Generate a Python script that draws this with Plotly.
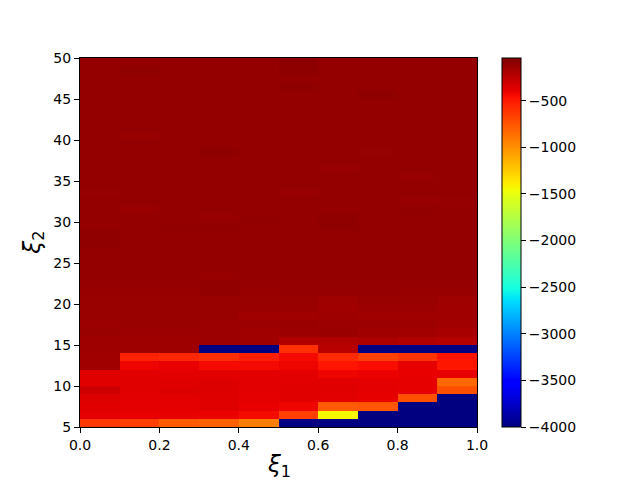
import plotly.graph_objects as go

# cell edges along both axes
xi1_edges = [0.0, 0.1, 0.2, 0.3, 0.4, 0.5, 0.6, 0.7, 0.8, 0.9, 1.0]
xi2_edges = list(range(5, 51))

x_ticks = [0.0, 0.2, 0.4, 0.6, 0.8, 1.0]
y_ticks = [5, 10, 15, 20, 25, 30, 35, 40, 45, 50]
cbar_ticks = [-4000, -3500, -3000, -2500, -2000, -1500, -1000, -500]

# one row per xi2 cell, from xi2 = 5 upwards; columns follow xi1
energy = [
    [-630, -666, -780, -802, -933, -4000, -4000, -4000, -4000, -4000],   # 5
    [-386, -400, -393, -405, -440, -666, -1436, -4000, -4000, -4000],    # 6
    [-372, -386, -386, -372, -400, -419, -775, -750, -4000, -4000],      # 7
    [-360, -379, -379, -366, -386, -372, -379, -393, -735, -4000],       # 8
    [-304, -372, -360, -360, -379, -372, -372, -386, -393, -735],        # 9
    [-372, -372, -372, -366, -379, -379, -379, -386, -393, -835],        # 10
    [-372, -379, -386, -379, -386, -386, -419, -405, -400, -400],        # 11
    [-154, -419, -400, -440, -440, -419, -482, -455, -393, -490],        # 12
    [-154, -541, -566, -590, -530, -440, -575, -666, -615, -482],        # 13
    [-147, -147, -147, -4000, -4000, -601, -237, -4000, -4000, -4000],   # 14
    [-147, -147, -147, -140, -154, -209, -209, -195, -209, -223],        # 15
    [-127, -140, -140, -140, -154, -140, -134, -154, -160, -181],        # 16
    [-140, -127, -127, -140, -140, -134, -140, -140, -147, -160],        # 17
    [-127, -127, -127, -127, -154, -154, -147, -154, -154, -154],        # 18
    [-127, -127, -127, -127, -134, -134, -154, -140, -140, -154],        # 19
    [-127, -127, -127, -127, -127, -127, -150, -127, -127, -150],        # 20
    [-125, -125, -125, -108, -125, -122, -120, -120, -125, -125],        # 21
    [-122, -122, -120, -108, -118, -118, -116, -118, -120, -122],        # 22
    [-113, -110, -113, -126, -113, -113, -113, -113, -113, -113],        # 23
    [-113, -113, -113, -113, -113, -113, -113, -113, -113, -113],        # 24
    [-113, -113, -113, -113, -113, -113, -113, -113, -113, -110],        # 25
    [-113, -113, -113, -113, -113, -113, -113, -113, -113, -113],        # 26
    [-100, -113, -113, -113, -113, -113, -113, -113, -113, -113],        # 27
    [-100, -113, -113, -113, -113, -113, -113, -113, -113, -113],        # 28
    [-113, -113, -104, -104, -113, -113, -102, -113, -113, -113],        # 29
    [-113, -113, -113, -125, -108, -113, -102, -113, -113, -113],        # 30
    [-113, -125, -113, -113, -113, -113, -122, -113, -106, -113],        # 31
    [-113, -113, -113, -113, -113, -113, -113, -113, -125, -118],        # 32
    [-122, -113, -113, -113, -113, -124, -113, -113, -113, -113],        # 33
    [-113, -113, -113, -113, -113, -113, -113, -113, -113, -113],        # 34
    [-113, -113, -113, -113, -113, -113, -113, -113, -126, -113],        # 35
    [-113, -113, -113, -113, -113, -113, -124, -113, -113, -113],        # 36
    [-113, -113, -113, -113, -113, -113, -113, -113, -113, -113],        # 37
    [-113, -113, -113, -100, -113, -113, -113, -122, -113, -113],        # 38
    [-113, -113, -113, -113, -113, -113, -113, -113, -113, -113],        # 39
    [-113, -125, -113, -113, -113, -113, -113, -113, -113, -113],        # 40
    [-113, -113, -113, -113, -113, -113, -113, -113, -113, -113],        # 41
    [-113, -113, -113, -113, -113, -113, -113, -113, -113, -113],        # 42
    [-113, -113, -113, -113, -113, -113, -113, -113, -113, -113],        # 43
    [-113, -113, -113, -113, -113, -113, -113, -113, -113, -113],        # 44
    [-113, -113, -113, -113, -113, -113, -113, -96, -113, -113],         # 45
    [-113, -113, -113, -113, -113, -100, -113, -113, -113, -113],        # 46
    [-113, -113, -113, -113, -113, -113, -113, -113, -113, -113],        # 47
    [-113, -96, -113, -113, -113, -92, -113, -113, -113, -113],          # 48
    [-113, -113, -113, -113, -113, -92, -113, -113, -113, -113],         # 49
]

# matplotlib's jet, sampled at its own breakpoints
_JET = [
    [0.0, "rgb(0,0,128)"],
    [0.11, "rgb(0,0,255)"],
    [0.125, "rgb(0,0,255)"],
    [0.34, "rgb(0,219,255)"],
    [0.35, "rgb(0,230,247)"],
    [0.375, "rgb(21,255,226)"],
    [0.64, "rgb(239,255,8)"],
    [0.65, "rgb(247,245,0)"],
    [0.66, "rgb(255,236,0)"],
    [0.89, "rgb(255,19,0)"],
    [0.91, "rgb(232,0,0)"],
    [1.0, "rgb(128,0,0)"],
]
_FONT = dict(family="DejaVu Sans", size=14, color="black")
_TITLE_FONT = dict(family="DejaVu Sans", size=23, color="black")

fig = go.Figure(
    go.Heatmap(
        x=xi1_edges,
        y=xi2_edges,
        z=energy,
        zmin=-4000,
        zmax=-43,
        colorscale=_JET,
        colorbar=dict(
            x=1.063,
            xanchor="left",
            xpad=0,
            ypad=0,
            y=0.5,
            len=1.0,
            thickness=19,
            outlinewidth=1,
            outlinecolor="black",
            tickvals=cbar_ticks,
            ticks="outside",
            ticklen=5,
            tickcolor="black",
            tickfont=_FONT,
        ),
    )
)

_axis = dict(
    showgrid=False,
    zeroline=False,
    showline=True,
    linecolor="black",
    linewidth=1,
    mirror=True,
    ticks="outside",
    ticklen=5,
    tickcolor="black",
    tickfont=_FONT,
    automargin=False,
)

fig.update_layout(
    width=640,
    height=480,
    margin=dict(l=80, r=163, t=58, b=53),
    plot_bgcolor="white",
    paper_bgcolor="white",
    font=_FONT,
    xaxis=dict(_axis, range=[0, 1], tickvals=x_ticks, tickformat=".1f"),
    yaxis=dict(_axis, range=[5, 50], tickvals=y_ticks),
)

# axis labels placed by hand, as matplotlib puts them
fig.add_annotation(
    text="<i>ξ</i><sub>1</sub>", font=_TITLE_FONT, showarrow=False,
    xref="paper", yref="paper", x=0.5, y=-0.106, xanchor="center", yanchor="middle",
)
fig.add_annotation(
    text="<i>ξ</i><sub>2</sub>", font=_TITLE_FONT, showarrow=False, textangle=-90,
    xref="paper", yref="paper", x=-0.118, y=0.5, xanchor="center", yanchor="middle",
)

# the page's default body margin would shift the figure by 8px
fig.write_html(
    "out.html",
    config={"displayModeBar": False},
    post_script="document.body.style.margin='0';",
)
